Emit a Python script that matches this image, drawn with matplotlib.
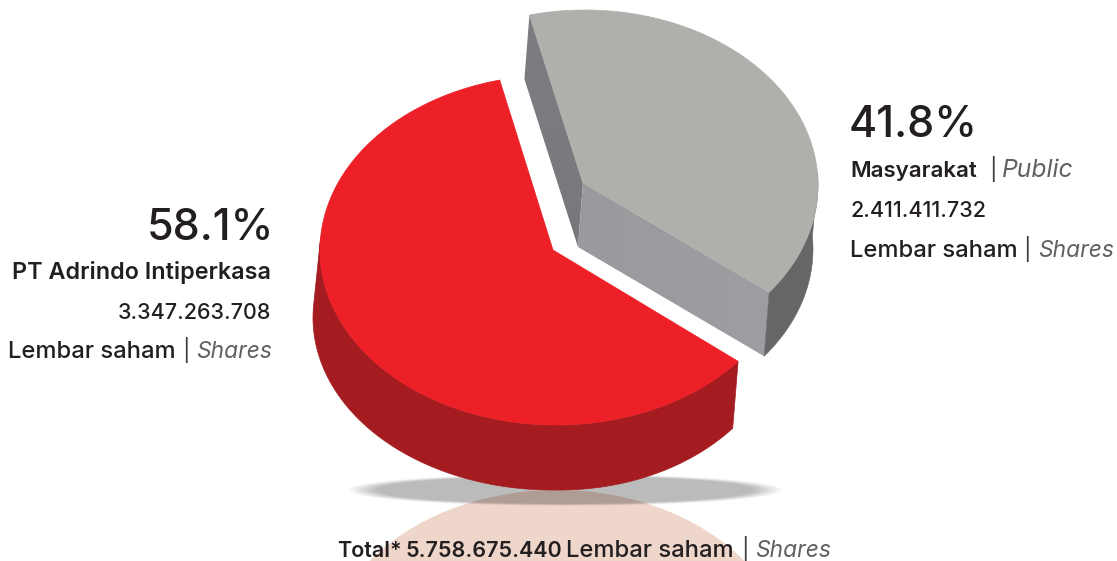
import numpy as np
import matplotlib
matplotlib.use("Agg")
import matplotlib.pyplot as plt
from matplotlib.patches import Polygon, Ellipse

# ---- data ----
owners = ["PT Adrindo Intiperkasa", "Masyarakat"]
shares_pct = [58.1, 41.8]
share_labels = ["58.1%", "41.8%"]
share_counts = ["3.347.263.708", "2.411.411.732"]
total_label = "5.758.675.440"

# ---- style ----
W, H = 1117, 561
FONT = "Inter"
INK = "#231f20"
MUTED = "#5f6062"
START_ANGLE = 103.8
FRONT_STRETCH = 1.035   # the drawing's perspective widens the front slice
REAR_SQUEEZE = 0.94     # and narrows the pulled-out one

fig = plt.figure(figsize=(W / 100, H / 100), dpi=100)
ax = fig.add_axes([0, 0, 1, 1])
ax.set_xlim(0, W)
ax.set_ylim(H, 0)
ax.axis("off")


def arc(center, a, b, t0, t1, n=200):
    t = np.radians(np.linspace(t0, t1, n))
    return np.column_stack([center[0] + a * np.cos(t), center[1] - b * np.sin(t)])


def arc_angles(t0, t1, n=200):
    return np.radians(np.linspace(t0, t1, n))


def soft_ellipse(cx, cy, a, b, rgb, alpha, edge, z):
    xs = np.linspace(cx - a, cx + a, 800)
    ys = np.linspace(cy - b, cy + b, 120)
    X, Y = np.meshgrid(xs, ys)
    d = np.sqrt(((X - cx) / a) ** 2 + ((Y - cy) / b) ** 2)
    img = np.zeros(X.shape + (4,))
    img[..., :3] = rgb
    img[..., 3] = alpha * np.clip((1 - d) / edge, 0, 1)
    ax.imshow(img, extent=(cx - a, cx + a, cy + b, cy - b), aspect="auto", zorder=z,
              interpolation="bilinear")


def gradient_fill(poly, extent, top_rgb, bottom_rgb, z, horizontal=False):
    g = np.linspace(0, 1, 200)
    g = g[None, :, None] if horizontal else g[:, None, None]
    img = np.array(top_rgb)[None, None, :] * (1 - g) + np.array(bottom_rgb)[None, None, :] * g
    im = ax.imshow(img / 255, extent=extent, aspect="auto", zorder=z, interpolation="bilinear")
    patch = Polygon(poly, closed=True, transform=ax.transData, fc="none", ec="none")
    ax.add_patch(patch)
    im.set_clip_path(patch)


full_sweeps = [360 * s / sum(shares_pct) for s in shares_pct]
red_sweep = full_sweeps[0] * FRONT_STRETCH
gray_sweep = full_sweeps[1] * REAR_SQUEEZE
split = START_ANGLE + red_sweep

# reflection and floor shadow
ax.add_patch(Ellipse((557, 665), 466, 350, fc="#efd6ca", ec="none", zorder=1))
soft_ellipse(565, 490, 219, 16, (0.0, 0.0, 0.0), 0.27, 0.14, 2)

# front (red) slice
r_c, r_apex, ra, rb = (556, 250), (553, 250), 236, 175
t = arc_angles(176, split)
edge = np.column_stack([r_c[0] + ra * np.cos(t), r_c[1] - rb * np.sin(t)])
c = np.abs(np.cos(t))
lower = edge + np.column_stack([-7 * c, 65 + 2.5 * c])
ax.add_patch(Polygon(np.vstack([edge, lower[::-1]]), closed=True, fc="#a51c20", ec="#a51c20",
                     lw=0.5, zorder=3))
top = arc(r_c, ra, rb, START_ANGLE, split)
ax.add_patch(Polygon(np.vstack([[r_apex], top]), closed=True, fc="#ed2027", ec="#ed2027",
                     lw=0.5, zorder=4))

# pulled out (gray) slice
g_c, g_apex, ga, gb = (585, 185), (583, 183), 233, 175
depth_g = np.array([-5, 64])
garc = arc(g_c, ga, gb, START_ANGLE, START_ANGLE - gray_sweep)
p_start, p_end = garc[0], garc[-1]
apex = np.array(g_apex, float)

left_face = [p_start, apex, apex + depth_g, p_start + depth_g]
gradient_fill(left_face, (515, 590, 250, 5), (124, 126, 129), (118, 120, 123), 3)
front_face = [apex, p_end, p_end + depth_g, apex + depth_g]
gradient_fill(front_face, (575, 775, 365, 180), (152, 154, 157), (156, 158, 161), 3, horizontal=True)
rim = arc(g_c, ga, gb, 4, START_ANGLE - gray_sweep)
ax.add_patch(Polygon(np.vstack([rim, (rim + depth_g)[::-1]]), closed=True, fc="#656667", ec="#656667",
                     lw=0.4, zorder=3))
ax.add_patch(Polygon(np.vstack([[g_apex], garc]), closed=True, fc="#afb0ac", ec="#afb0ac",
                     lw=0.5, zorder=4))

ax.set_xlim(0, W)
ax.set_ylim(H, 0)

fig.canvas.draw()
renderer = fig.canvas.get_renderer()

BIG = dict(fontsize=31, color=INK, fontweight="medium")
NAME = dict(fontsize=16.8, color=INK, fontweight="semibold")
NAME_R = dict(fontsize=16.1, color=INK, fontweight="semibold")
NUM = dict(fontsize=15.5, color=INK, fontweight="medium")
NUM_B = dict(fontsize=15.5, color=INK, fontweight="semibold")
WORD = dict(fontsize=17.1, color=INK, fontweight="medium")
BAR = dict(fontsize=16, color="#3c3c3e", fontweight="normal")
ITA = dict(fontsize=16.4, color=MUTED, style="italic")
PUB = dict(fontsize=17.8, color=MUTED, style="italic")


def put(x, y, s, ha="left", **kw):
    return ax.text(x, y, s, family=FONT, ha=ha, va="baseline", zorder=10, **kw)


def width(t):
    return t.get_window_extent(renderer).width


def row(x, y, parts, gaps, align="left"):
    objs = [put(0, y, s, **kw) for s, kw in parts]
    ws = [width(o) for o in objs]
    cur = x - (sum(ws) + sum(gaps)) if align == "right" else x
    for i, (o, w) in enumerate(zip(objs, ws)):
        o.set_x(cur)
        cur += w + (gaps[i] if i < len(gaps) else 0)


SHARES_ROW = [("Lembar saham", WORD), ("|", BAR), ("Shares", ITA)]

# left block
put(274, 240, share_labels[0], ha="right", **BIG)
put(271, 279, owners[0], ha="right", **NAME)
put(271.5, 319, share_counts[0], ha="right", **NUM)
row(272.5, 358, SHARES_ROW, [6, 7], "right")

# right block
put(849, 137, share_labels[1], **BIG)
row(850, 177, [(owners[1], NAME_R), ("|", BAR), ("Public", PUB)], [12, 6])
put(850, 217, share_counts[1], **NUM)
row(850, 257, SHARES_ROW, [6, 7])

# total line
row(337, 557, [("Total*", NUM_B), (total_label, NUM_B)] + SHARES_ROW, [4, 4, 7, 7])

fig.savefig("out.png", dpi=100)
